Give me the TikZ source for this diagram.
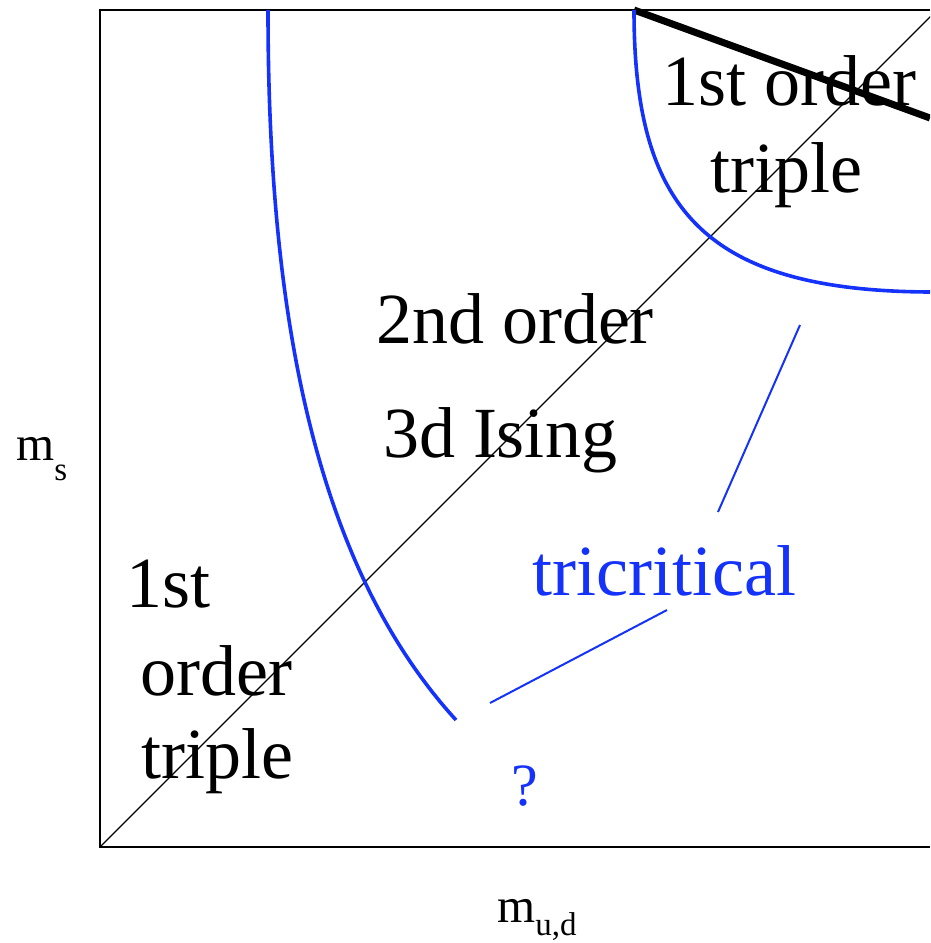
\documentclass[tikz,border=0pt]{standalone}
\usepackage{fontspec}
\setmainfont{Liberation Serif}
\definecolor{lineblue}{RGB}{20,50,250}
\begin{document}
\begin{tikzpicture}[x=1pt,y=-1pt,
  big/.style={font=\fontsize{72}{80}\selectfont, inner sep=0pt, anchor=base},
  axlab/.style={font=\fontsize{49}{55}\selectfont, inner sep=0pt, anchor=base west},
  bluecurve/.style={draw=lineblue, line width=3.6pt},
  pointer/.style={draw=lineblue, line width=2pt}]
\useasboundingbox (0,0) rectangle (930,943);
\begin{scope}
\clip (0,0) rectangle (930,943);
% frame
\coordinate (tr) at (930,10);
\coordinate (tl) at (100,10);
\coordinate (bl) at (100,847);
\coordinate (br) at (930,847);
\draw[line width=1.8pt] (tr) -- (tl) -- (bl) -- (br);
% diagonal
\coordinate (dend) at (937,10);
\draw[line width=1.3pt] (bl) -- (dend);
% thick first-order line
\coordinate (ta) at (634,10);
\coordinate (tb) at (930,118);
\draw[line width=7pt] (ta) -- (tb);
% blue curves
\coordinate (c1s) at (634,10);
\coordinate (c1e) at (930,292);
\draw[bluecurve] (c1s) .. controls (634,205) and (700,291) .. (c1e);
\coordinate (c2s) at (268,10);
\coordinate (c2e) at (456,720);
\draw[bluecurve] (c2s) .. controls (268,300) and (310,560) .. (c2e);
\end{scope}
% labels
\node[big] (t1a) at (789,105) {1st order};
\node[big] (t1b) at (786,192) {triple};
\node[big] (t2a) at (515,343) {2nd order};
\node[big] (t2b) at (500,457) {3d Ising};
\node[big, text=lineblue] (tri) at (664,595) {tricritical};
\node[big, anchor=base west] (l1) at (126,607) {1st};
\node[big, anchor=base west] (l2) at (140,695) {order};
\node[big, anchor=base west] (l3) at (141,778) {triple};
\node[big, text=lineblue, font=\fontsize{60}{66}\selectfont] (q) at (525,805) {?};
\node[axlab] (ms) at (16,460) {m\raisebox{-20pt}{\fontsize{33}{36}\selectfont s}};
\node[axlab] (mud) at (497,922) {m\raisebox{-13pt}{\fontsize{33}{36}\selectfont u,d}};
% pointers
\coordinate (p1a) at (718,512);
\coordinate (p1b) at (800,325);
\coordinate (p2a) at (490,703);
\coordinate (p2b) at (667,610);
\draw[pointer] (p1a) -- (p1b);
\draw[pointer] (p2a) -- (p2b);
\end{tikzpicture}
\end{document}
